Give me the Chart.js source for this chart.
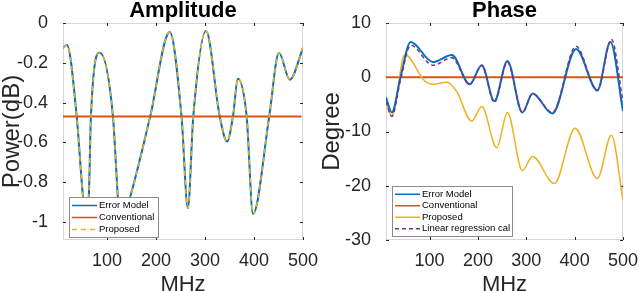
<!DOCTYPE html>
<html>
<head>
<meta charset="utf-8">
<script src="https://cdn.jsdelivr.net/npm/chart.js@4"></script>
<style>
  body { margin: 0; background: #fff; }
  .wrap { position: absolute; top: 0; width: 320px; height: 291px; }
</style>
</head>
<body>
<div class="wrap" style="left:0"><canvas id="ampChart" width="320" height="291"></canvas></div>
<div class="wrap" style="left:320px"><canvas id="phaseChart" width="320" height="291"></canvas></div>
<script>
// Amplitude (left)
var ampFreq = [10, 18, 38, 50, 57, 63, 67, 85, 112, 122, 127, 147, 188, 228, 252, 265, 276, 302, 330, 345, 357, 367, 385, 398, 431, 451, 473, 500];
var ampPower = [-0.125, -0.11, -0.47, -0.85, -1.0, -0.85, -0.47, -0.15, -0.47, -0.875, -1.02, -0.875, -0.47, -0.045, -0.47, -0.93, -0.47, -0.04, -0.47, -0.595, -0.47, -0.28, -0.47, -0.96, -0.47, -0.15, -0.285, -0.125];
var convAmpFreq = [10, 497];
var convAmpPower = [-0.47, -0.47];

// Phase (right)
var errFreq = [10, 22, 40, 61, 107, 146, 183, 208, 234, 261, 292, 313, 354, 403, 447, 474, 500];
var errPhase = [-3.7, -6.5, 0, 6.5, 2.8, 4.1, -1.3, 2.2, -4.4, 3.0, -6.5, -3.0, -6.7, 5.2, -2.4, 6.5, -6.2];
var convPhFreq = [10, 500];
var convPhase = [0, 0];
var propFreq = [10, 22, 49, 90, 107, 136, 156, 187, 208, 239, 261, 292, 313, 358, 401, 447, 476, 500];
var propPhase = [-4.7, -7.2, 4.2, -0.7, -1.3, -0.9, -2.6, -8.1, -5.4, -13.0, -6.5, -17.2, -14.6, -19.6, -9.4, -18.7, -10.7, -22.6];
var linFreq = [10, 22, 40, 61, 107, 146, 183, 208, 234, 261, 292, 313, 354, 403, 447, 476, 500];
var linPhase = [-4.5, -7.2, -0.5, 5.9, 2.2, 3.6, -1.3, 2.2, -4.6, 2.8, -6.5, -3.0, -6.5, 5.7, -2.5, 7.0, -4.6];

// tick labels
var freqTicks = [100, 200, 300, 400, 500];
var ampTicks = [-1, -0.8, -0.6, -0.4, -0.2, 0];
var phaseTicks = [-30, -20, -10, 0, 10];

var BLUE = "#0072BD", RED = "#D95319", YELLOW = "#EDB120", PURPLE = "#7E2F8E";

function pts(xs, ys) {
  return xs.map(function (x, i) { return { x: x, y: ys[i] }; });
}

// matlab style box with inward ticks
var boxPlugin = {
  id: "matlabBox",
  beforeDatasetsDraw: function (chart) {
    var a = chart.chartArea, ctx = chart.ctx;
    var sx = chart.scales.x, sy = chart.scales.y;
    ctx.save();
    ctx.lineWidth = 1;
    ctx.strokeStyle = "#d6d6d6";
    ctx.strokeRect(a.left + 0.5, a.top + 0.5, a.right - a.left - 1, a.bottom - a.top - 1);
    ctx.strokeStyle = "#262626";
    ctx.beginPath();
    sx.ticks.forEach(function (t) {
      var p = Math.round(sx.getPixelForValue(t.value)) + 0.5;
      ctx.moveTo(p, a.bottom); ctx.lineTo(p, a.bottom - 3);
      ctx.moveTo(p, a.top); ctx.lineTo(p, a.top + 3);
    });
    sy.ticks.forEach(function (t) {
      var p = Math.round(sy.getPixelForValue(t.value)) + 0.5;
      ctx.moveTo(a.left, p); ctx.lineTo(a.left + 3, p);
      ctx.moveTo(a.right, p); ctx.lineTo(a.right - 3, p);
    });
    ctx.stroke();
    ctx.restore();
  }
};

// legend box drawn inside the plot, over the lines
var boxLegend = {
  id: "boxLegend",
  afterDatasetsDraw: function (chart, args, opts) {
    var ctx = chart.ctx;
    var sets = chart.data.datasets;
    ctx.save();
    ctx.fillStyle = "#fff";
    ctx.fillRect(opts.left, opts.top, opts.width, opts.rowHeight * sets.length + 4);
    ctx.strokeStyle = "#8c8c8c";
    ctx.lineWidth = 1;
    ctx.strokeRect(opts.left + 0.5, opts.top + 0.5, opts.width, opts.rowHeight * sets.length + 4);
    ctx.font = "9.5px Arial";
    ctx.textBaseline = "middle";
    sets.forEach(function (ds, i) {
      var y = opts.top + 2 + opts.rowHeight * (i + 0.5) + 0.5;
      ctx.strokeStyle = ds.borderColor;
      ctx.lineWidth = 1.5;
      ctx.setLineDash(ds.borderDash || []);
      ctx.beginPath();
      ctx.moveTo(opts.left + 3, y);
      ctx.lineTo(opts.left + 3 + opts.lineLength, y);
      ctx.stroke();
      ctx.setLineDash([]);
      ctx.fillStyle = "#000";
      ctx.fillText(ds.label, opts.left + 5 + opts.lineLength, y);
    });
    ctx.restore();
  }
};

function makeOptions(title, yMin, yMax, yTicks, yTitle, yWidth, rightPad, legendOpts) {
  return {
    responsive: false,
    animation: false,
    devicePixelRatio: 1,
    layout: { padding: { top: 0, right: rightPad, left: 0, bottom: 0 } },
    elements: { point: { radius: 0 }, line: { cubicInterpolationMode: "monotone" } },
    plugins: {
      legend: { display: false },
      tooltip: { enabled: false },
      title: {
        display: true,
        text: title,
        fullSize: false,
        color: "#000",
        font: { family: "Arial", size: 22, weight: "bold", lineHeight: 1 },
        padding: { top: 0, bottom: 1 }
      },
      boxLegend: legendOpts
    },
    scales: {
      x: {
        type: "linear",
        min: 10,
        max: 500,
        afterBuildTicks: function (s) { s.ticks = freqTicks.map(function (v) { return { value: v }; }); },
        afterFit: function (s) { s.height = 51; },
        grid: { display: false },
        border: { display: false },
        ticks: { color: "#262626", font: { family: "Arial", size: 18 }, padding: 2, maxRotation: 0 },
        title: { display: true, text: "MHz", color: "#262626", font: { family: "Arial", size: 22, lineHeight: 1 }, padding: { top: 0, bottom: -5 } }
      },
      y: {
        min: yMin,
        max: yMax,
        afterBuildTicks: function (s) { s.ticks = yTicks.map(function (v) { return { value: v }; }); },
        afterFit: function (s) { s.width = yWidth; },
        grid: { display: false },
        border: { display: false },
        ticks: {
          color: "#262626", font: { family: "Arial", size: 18 }, padding: 7,
          callback: function (v) { return String(Math.round(v * 10) / 10); }
        },
        title: { display: true, text: yTitle, color: "#262626", font: { family: "Arial", size: 24, lineHeight: 1 }, padding: { top: 0, bottom: 0 } }
      }
    }
  };
}

new Chart(document.getElementById("ampChart").getContext("2d"), {
  type: "line",
  data: {
    datasets: [
      { label: "Error Model", data: pts(ampFreq, ampPower), borderColor: BLUE, borderWidth: 2, order: 3 },
      { label: "Conventional", data: pts(convAmpFreq, convAmpPower), borderColor: RED, borderWidth: 2, order: 2 },
      { label: "Proposed", data: pts(ampFreq, ampPower), borderColor: YELLOW, borderWidth: 1.5, borderDash: [5, 4], order: 1 }
    ]
  },
  options: makeOptions("Amplitude", -1.09, 0, ampTicks, "Power(dB)", 63, 17,
    { left: 69, top: 197, width: 89, rowHeight: 12, lineLength: 25 }),
  plugins: [boxPlugin, boxLegend]
});

new Chart(document.getElementById("phaseChart").getContext("2d"), {
  type: "line",
  data: {
    datasets: [
      { label: "Error Model", data: pts(errFreq, errPhase), borderColor: BLUE, borderWidth: 2, order: 2 },
      { label: "Conventional", data: pts(convPhFreq, convPhase), borderColor: RED, borderWidth: 2, order: 4 },
      { label: "Proposed", data: pts(propFreq, propPhase), borderColor: YELLOW, borderWidth: 1.5, order: 3 },
      { label: "Linear regression cal", data: pts(linFreq, linPhase), borderColor: PURPLE, borderWidth: 1.5, borderDash: [4, 3], order: 1 }
    ]
  },
  options: makeOptions("Phase", -30, 10, phaseTicks, "Degree", 66, 16,
    { left: 72, top: 186, width: 120, rowHeight: 11.5, lineLength: 25 }),
  plugins: [boxPlugin, boxLegend]
});
</script>
</body>
</html>
